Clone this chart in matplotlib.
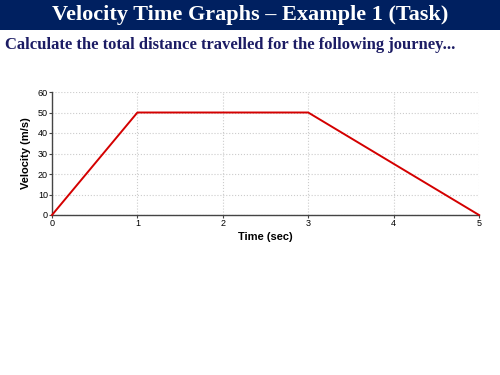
import matplotlib.pyplot as plt
from matplotlib.patches import Rectangle

# journey data
times = [0, 1, 3, 5]
velocities = [0, 50, 50, 0]
x_ticks = [0, 1, 2, 3, 4, 5]
y_ticks = [0, 10, 20, 30, 40, 50, 60]

title = "Velocity Time Graphs \u2013 Example 1 (Task)"
subtitle = "Calculate the total distance travelled for the following journey..."

fig = plt.figure(figsize=(5, 3.75), dpi=100)

# banner
fig.patches.append(Rectangle((0, 1 - 30/375), 1, 30/375, transform=fig.transFigure,
                             facecolor='#002060', edgecolor='none', zorder=0))
fig.text(0.5, 1 - 15/375, title, ha='center', va='center', color='white',
         family='Liberation Serif', fontweight='bold', fontsize=16)
fig.text(0.01, 1 - 45/375, subtitle, ha='left', va='center', color='#1c1c64',
         family='Liberation Serif', fontweight='bold', fontsize=12)

ax = fig.add_axes([52/500, 160/375, 427/500, 123/375])
ax.plot(times, velocities, color='#d40000', lw=1.4, clip_on=False, zorder=3)
ax.set_xlim(0, 5)
ax.set_ylim(0, 60)
ax.set_xticks(x_ticks)
ax.set_yticks(y_ticks)
ax.grid(True, color='#cccccc', linestyle=':', lw=0.8)
for s in ['top', 'right']:
    ax.spines[s].set_visible(False)
for s in ['left', 'bottom']:
    ax.spines[s].set_color('#444444')
    ax.spines[s].set_linewidth(1.0)
ax.tick_params(labelsize=6.5, length=2, width=0.8, color='#444444', pad=1)
for lbl in ax.get_xticklabels() + ax.get_yticklabels():
    lbl.set_family('Liberation Sans')
ax.set_xlabel('Time (sec)', family='Liberation Sans', fontweight='bold', fontsize=8, labelpad=3)
ax.set_ylabel('Velocity (m/s)', family='Liberation Sans', fontweight='bold', fontsize=8, labelpad=5)

fig.savefig('out.png', dpi=100)
